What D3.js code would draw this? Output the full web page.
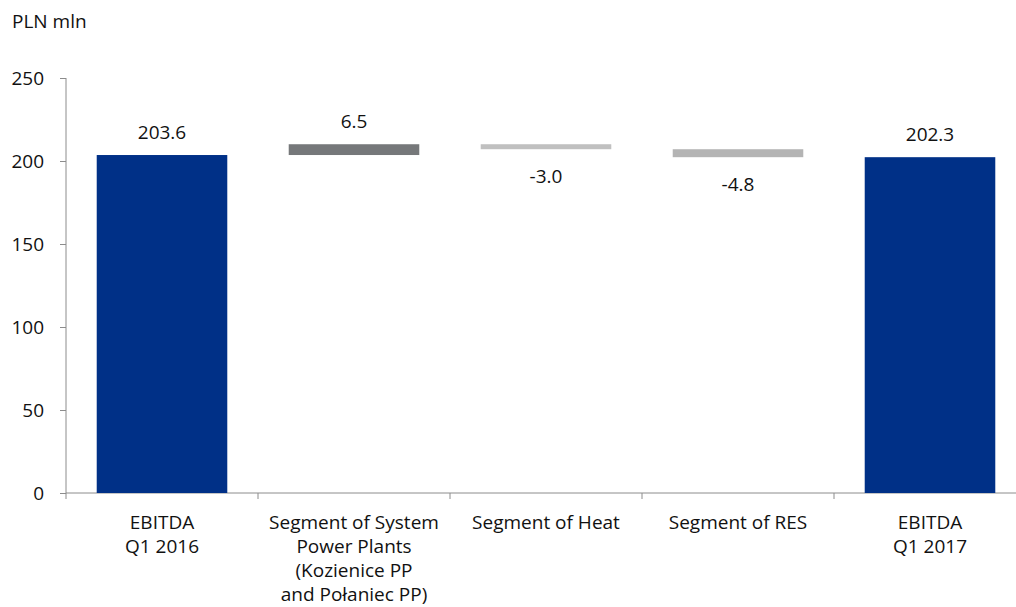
<!DOCTYPE html>
<html>
<head>
<meta charset="utf-8">
<script src="https://cdn.jsdelivr.net/npm/d3@7"></script>
<style>
body { margin: 0; background: #fff; }
text { font-family: "Open Sans", "DejaVu Sans", sans-serif; font-weight: 500; fill: #111; }
</style>
</head>
<body>
<div id="graph"></div>
<script>
var width = 1016, height = 607;

// data
var categories = ["EBITDA\nQ1 2016", "Segment of System\nPower Plants\n(Kozienice PP\nand Połaniec PP)", "Segment of Heat", "Segment of RES", "EBITDA\nQ1 2017"];
var changes = [203.6, 6.5, -3.0, -4.8, 202.3];
var kinds = ["total", "delta", "delta", "delta", "total"];
var labels = ["203.6", "6.5", "-3.0", "-4.8", "202.3"];
var yTicks = [0, 50, 100, 150, 200, 250];

// build waterfall start/end
var run = 0;
var rows = categories.map(function (c, i) {
  var s, e;
  if (kinds[i] === "total") { s = 0; e = changes[i]; run = changes[i]; }
  else { s = run; e = run + changes[i]; run = e; }
  return { cat: c, start: s, end: e, val: changes[i], kind: kinds[i], label: labels[i] };
});

var margin = { left: 66, top: 78, bottom: 114 };
var band = 192;
var fs = '19px';

var svg = d3.select('#graph').append('svg').attr('width', width).attr('height', height);

var x = d3.scaleBand().domain(d3.range(categories.length))
  .range([margin.left, margin.left + band * categories.length]).paddingInner(0.32).paddingOuter(0.16);
var y = d3.scaleLinear().domain([0, 250]).range([height - margin.bottom, margin.top]);

svg.append('text').attr('x', 12).attr('y', 28).style('font-size', fs).text('PLN mln');

// y axis
var yAxis = svg.append('g').attr('transform', 'translate(' + margin.left + ',0)')
  .call(d3.axisLeft(y).tickValues(yTicks).tickSize(6).tickPadding(16));
yAxis.select('.domain').attr('stroke', '#8c8c8c').attr('d', 'M0,' + y(250) + 'V' + y(0));
yAxis.selectAll('.tick line').attr('stroke', '#8c8c8c');
yAxis.selectAll('.tick text').style('font-size', fs).attr('fill', '#111')
  .style('font-family', '"Open Sans", "DejaVu Sans", sans-serif').style('font-weight', 500);

// x axis line + ticks at band edges
var xAxisG = svg.append('g');
xAxisG.append('line').attr('x1', margin.left).attr('x2', margin.left + band * 5)
  .attr('y1', y(0)).attr('y2', y(0)).attr('stroke', '#8c8c8c');
d3.range(categories.length + 1).forEach(function (i) {
  var xx = margin.left + band * i;
  xAxisG.append('line').attr('x1', xx).attr('x2', xx).attr('y1', y(0)).attr('y2', y(0) + 6).attr('stroke', '#8c8c8c');
});

function colorOf(d, i) {
  if (d.kind === 'total') return '#003087';
  if (d.val > 0) return '#76787a';
  return i === 2 ? '#c0c0c0' : '#b4b4b4';
}

svg.selectAll('rect.bar').data(rows).enter().append('rect').attr('class', 'bar')
  .attr('x', function (d, i) { return x(i); })
  .attr('width', x.bandwidth())
  .attr('y', function (d) { return y(Math.max(d.start, d.end)); })
  .attr('height', function (d) { return Math.abs(y(d.start) - y(d.end)); })
  .attr('fill', colorOf);

// value labels
svg.selectAll('text.val').data(rows).enter().append('text').attr('class', 'val')
  .attr('text-anchor', 'middle').style('font-size', fs)
  .attr('x', function (d, i) { return x(i) + x.bandwidth() / 2; })
  .attr('y', function (d) {
    var top = y(Math.max(d.start, d.end)), bot = y(Math.min(d.start, d.end));
    return d.val >= 0 ? top - 16 : bot + 34;
  })
  .text(function (d) { return d.label; });

// category labels
rows.forEach(function (d, i) {
  var cx = margin.left + band * i + band / 2;
  var t = svg.append('text').attr('text-anchor', 'middle').style('font-size', fs)
    .attr('x', cx).attr('y', y(0) + 36);
  d.cat.split('\n').forEach(function (line, k) {
    t.append('tspan').attr('x', cx).attr('dy', k === 0 ? 0 : 24).text(line);
  });
});
</script>
</body>
</html>
